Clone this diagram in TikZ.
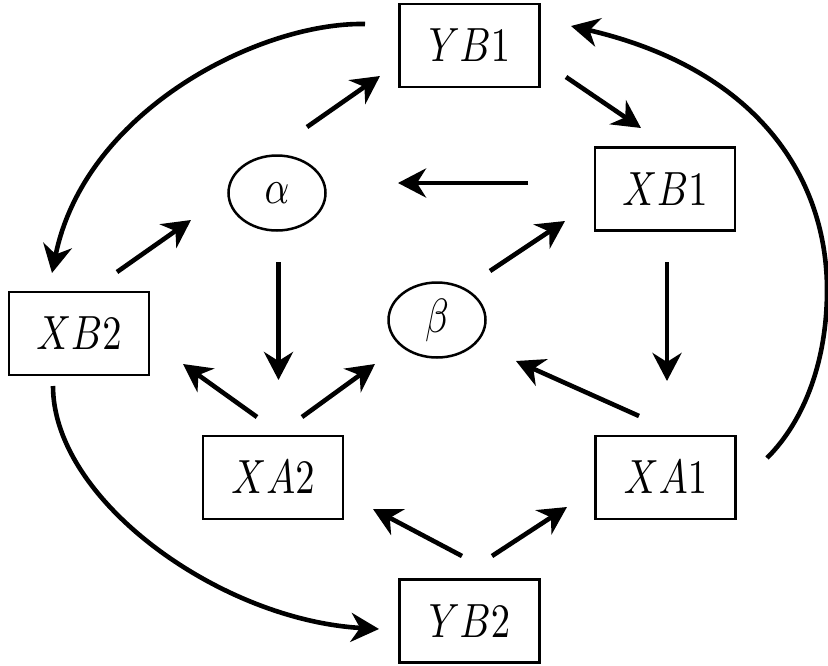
\documentclass[tikz,border=0pt]{standalone}
\usepackage{graphicx}
\usetikzlibrary{arrows.meta,shapes.geometric}
\newcommand{\mylabel}[1]{\scalebox{3.85}[4.8]{$#1$}}
\begin{document}
\begin{tikzpicture}[x=1pt,y=-1pt,
  boxnode/.style={draw,line width=2.3pt,minimum width=140pt,minimum height=83pt,inner sep=0pt},
  ellnode/.style={draw,ellipse,line width=2.5pt,minimum width=97pt,minimum height=75pt,inner sep=0pt},
  conn/.style={line width=4.6pt,-{Stealth[length=28pt,width=29pt,inset=9pt]}}]
\useasboundingbox (0,0) rectangle (828,665);
% nodes
\node[boxnode] (YB1) at (469.5,45.5) {\mylabel{YB1}};
\node[boxnode] (XB1) at (665,189) {\mylabel{XB1}};
\node[ellnode] (al) at (277,193) {\mylabel{\alpha}};
\node[boxnode] (XB2) at (79,333.5) {\mylabel{XB2}};
\node[ellnode] (be) at (437,320) {\mylabel{\beta}};
\node[boxnode] (XA2) at (273,477.5) {\mylabel{XA2}};
\node[boxnode] (XA1) at (665.5,477.5) {\mylabel{XA1}};
\node[boxnode] (YB2) at (469.5,621) {\mylabel{YB2}};
% connector end points
\coordinate (a1s) at (307,127);  \coordinate (a1e) at (380,76);
\coordinate (a2s) at (566,77);   \coordinate (a2e) at (641,128);
\coordinate (a3s) at (528,183);  \coordinate (a3e) at (398,183);
\coordinate (a4s) at (117,272);  \coordinate (a4e) at (191,220);
\coordinate (a5s) at (278.5,262); \coordinate (a5e) at (278.5,380);
\coordinate (a6s) at (490,271);  \coordinate (a6e) at (565,221);
\coordinate (a7s) at (667,262);  \coordinate (a7e) at (667,381);
\coordinate (a8s) at (257,417);  \coordinate (a8e) at (183,364);
\coordinate (a9s) at (302,417);  \coordinate (a9e) at (375,364);
\coordinate (a10s) at (639,416); \coordinate (a10e) at (516,361);
\coordinate (a11s) at (462,556); \coordinate (a11e) at (373,509);
\coordinate (a12s) at (492,556); \coordinate (a12e) at (567,507);
\coordinate (c1s) at (365,24);   \coordinate (c1e) at (52,273);
\coordinate (c2s) at (53,386);   \coordinate (c2e) at (379,629);
\coordinate (c3s) at (767,458);  \coordinate (c3m) at (827,290); \coordinate (c3e) at (571,26);
% straight connectors
\draw[conn] (a1s) -- (a1e);
\draw[conn] (a2s) -- (a2e);
\draw[conn] (a3s) -- (a3e);
\draw[conn] (a4s) -- (a4e);
\draw[conn] (a5s) -- (a5e);
\draw[conn] (a6s) -- (a6e);
\draw[conn] (a7s) -- (a7e);
\draw[conn] (a8s) -- (a8e);
\draw[conn] (a9s) -- (a9e);
\draw[conn] (a10s) -- (a10e);
\draw[conn] (a11s) -- (a11e);
\draw[conn] (a12s) -- (a12e);
% curved connectors
\draw[conn] (c1s) .. controls (260,22) and (85,110) .. (c1e);
\draw[conn] (c2s) .. controls (53,500) and (220,620) .. (c2e);
\draw[conn] (c3s) .. controls (805,420) and (827,360) .. (c3m)
                  .. controls (827,180) and (760,70) .. (c3e);
\end{tikzpicture}
\end{document}
